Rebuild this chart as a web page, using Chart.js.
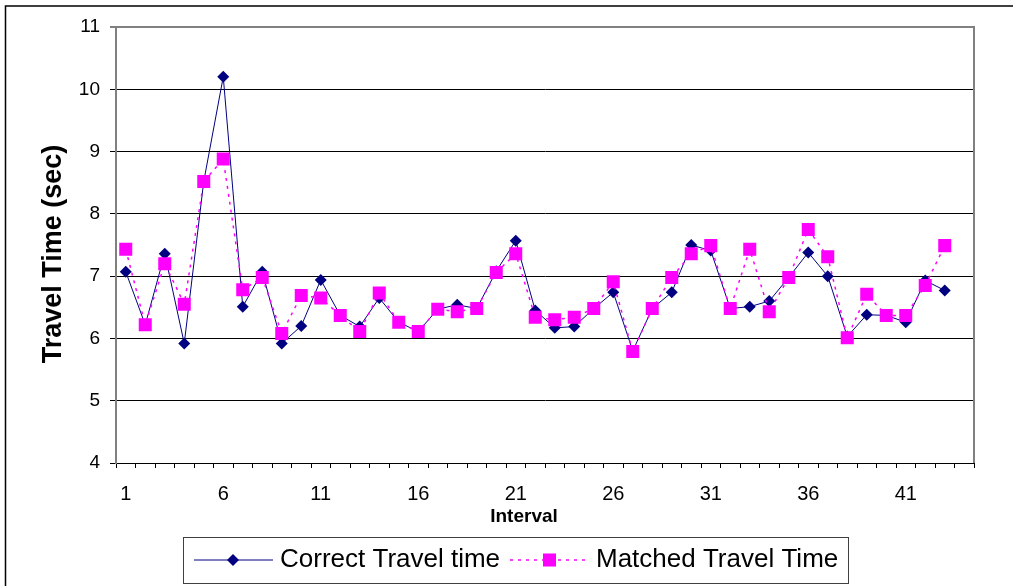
<!DOCTYPE html>
<html>
<head>
<meta charset="utf-8">
<script src="https://cdn.jsdelivr.net/npm/chart.js@4.4.1/dist/chart.umd.min.js"></script>
<style>
  html, body { margin: 0; padding: 0; background: #fff; }
  #wrap { width: 1013px; height: 586px; position: relative; }
</style>
</head>
<body>
<div id="wrap"><canvas id="travelChart" width="1013" height="586"></canvas></div>
<script>
const intervals = [1, 2, 3, 4, 5, 6, 7, 8, 9, 10, 11, 12, 13, 14, 15, 16, 17, 18, 19, 20,
  21, 22, 23, 24, 25, 26, 27, 28, 29, 30, 31, 32, 33, 34, 35, 36, 37, 38, 39, 40, 41, 42, 43];

const correctTravel = [7.07, 6.22, 7.36, 5.92, 8.52, 10.2, 6.51, 7.07, 5.92, 6.2,
  6.94, 6.37, 6.19, 6.65, 6.26, 6.11, 6.47, 6.54, 6.48, 7.08,
  7.57, 6.45, 6.17, 6.19, 6.48, 6.74, 5.8, 6.48, 6.74, 7.5,
  7.41, 6.48, 6.51, 6.6, 6.98, 7.38, 7.0, 6.03, 6.38, 6.37,
  6.26, 6.93, 6.77];

const matchedTravel = [7.43, 6.22, 7.2, 6.55, 8.52, 8.88, 6.78, 6.98, 6.08, 6.69,
  6.65, 6.37, 6.11, 6.73, 6.26, 6.11, 6.47, 6.43, 6.48, 7.06,
  7.36, 6.34, 6.3, 6.34, 6.48, 6.91, 5.79, 6.48, 6.98, 7.36,
  7.49, 6.48, 7.43, 6.43, 6.98, 7.75, 7.31, 6.01, 6.71, 6.37,
  6.37, 6.85, 7.49];

const xTickLabels = ['1', '6', '11', '16', '21', '26', '31', '36', '41'];
const yTicks = [4, 5, 6, 7, 8, 9, 10, 11];

// the axis keeps one spare slot after the last interval
const axisLabels = [...intervals, ''];

const NAVY = '#000080';
const MAGENTA = '#FF00FF';
const FONT = '"Liberation Sans", Arial, sans-serif';

// frame, plot border, axis titles and the boxed legend
const decorations = {
  id: 'decorations',
  beforeDatasetsDraw(chart) {
    const { ctx, chartArea: a } = chart;
    ctx.save();
    ctx.strokeStyle = '#808080';
    ctx.lineWidth = 2;
    ctx.beginPath();
    ctx.moveTo(a.left - 6, a.top);
    ctx.lineTo(a.right, a.top);
    ctx.lineTo(a.right, a.bottom);
    ctx.stroke();
    ctx.restore();
  },
  afterDraw(chart) {
    const { ctx } = chart;
    ctx.save();

    // outer frame
    ctx.strokeStyle = '#000';
    ctx.lineWidth = 1.5;
    ctx.beginPath();
    ctx.moveTo(5.5, 586);
    ctx.lineTo(5.5, 6);
    ctx.lineTo(1013, 6);
    ctx.stroke();

    // y title
    ctx.fillStyle = '#000';
    ctx.font = 'bold 27px ' + FONT;
    ctx.textAlign = 'center';
    ctx.textBaseline = 'middle';
    ctx.save();
    ctx.translate(54, 254);
    ctx.rotate(-Math.PI / 2);
    ctx.fillText('Travel Time (sec)', 0, 0);
    ctx.restore();

    // x title
    ctx.font = 'bold 19px ' + FONT;
    ctx.fillText('Interval', 524, 517);

    // legend box
    ctx.fillStyle = '#fff';
    ctx.fillRect(183, 537, 665, 46);
    ctx.strokeStyle = '#404040';
    ctx.lineWidth = 1;
    ctx.strokeRect(183.5, 537.5, 665, 46);

    const ly = 560;
    ctx.strokeStyle = NAVY;
    ctx.lineWidth = 1;
    ctx.beginPath();
    ctx.moveTo(194, ly);
    ctx.lineTo(273, ly);
    ctx.stroke();
    ctx.fillStyle = NAVY;
    ctx.beginPath();
    ctx.moveTo(233, ly - 6);
    ctx.lineTo(239, ly);
    ctx.lineTo(233, ly + 6);
    ctx.lineTo(227, ly);
    ctx.closePath();
    ctx.fill();

    ctx.strokeStyle = MAGENTA;
    ctx.lineWidth = 1.5;
    ctx.setLineDash([3, 5]);
    ctx.beginPath();
    ctx.moveTo(510, ly);
    ctx.lineTo(588, ly);
    ctx.stroke();
    ctx.setLineDash([]);
    ctx.fillStyle = MAGENTA;
    ctx.fillRect(543, ly - 6.5, 13, 13);

    ctx.fillStyle = '#000';
    ctx.font = '26px ' + FONT;
    ctx.textAlign = 'left';
    ctx.fillText('Correct Travel time', 280, ly);
    ctx.fillText('Matched Travel Time', 596, ly);

    ctx.restore();
  }
};

new Chart(document.getElementById('travelChart'), {
  type: 'line',
  data: {
    labels: axisLabels,
    datasets: [
      {
        label: 'Matched Travel Time',
        data: matchedTravel,
        borderColor: MAGENTA,
        backgroundColor: MAGENTA,
        borderWidth: 1.5,
        borderDash: [3, 5],
        pointStyle: 'rect',
        pointRadius: 9.2,
        pointBorderWidth: 0,
        tension: 0,
        order: 0
      },
      {
        label: 'Correct Travel time',
        data: correctTravel,
        borderColor: NAVY,
        backgroundColor: NAVY,
        borderWidth: 1,
        pointStyle: 'rectRot',
        pointRadius: 6,
        pointBorderWidth: 0,
        tension: 0,
        order: 1
      }
    ]
  },
  options: {
    responsive: false,
    animation: false,
    layout: { padding: { top: 27, right: 39, left: 0, bottom: 0 } },
    plugins: {
      legend: { display: false },
      tooltip: { enabled: false }
    },
    scales: {
      x: {
        type: 'category',
        offset: true,
        grid: {
          offset: true,
          drawOnChartArea: false,
          drawTicks: true,
          tickLength: 5,
          color: '#000'
        },
        border: { color: '#000', width: 1 },
        ticks: {
          autoSkip: false,
          maxRotation: 0,
          padding: 14,
          color: '#000',
          font: { family: FONT, size: 20 },
          callback(value, index) {
            const lbl = String(axisLabels[index]);
            return xTickLabels.includes(lbl) ? lbl : '';
          }
        },
        afterFit(scale) { scale.height = 123; }
      },
      y: {
        min: yTicks[0],
        max: yTicks[yTicks.length - 1],
        afterBuildTicks(scale) { scale.ticks = yTicks.map(v => ({ value: v })); },
        grid: {
          color: '#000',
          lineWidth: 1,
          tickLength: 6
        },
        border: { color: '#808080', width: 2 },
        ticks: {
          padding: 10,
          color: '#000',
          font: { family: FONT, size: 19 }
        },
        afterFit(scale) { scale.width = 116; }
      }
    }
  },
  plugins: [decorations]
});
</script>
</body>
</html>
